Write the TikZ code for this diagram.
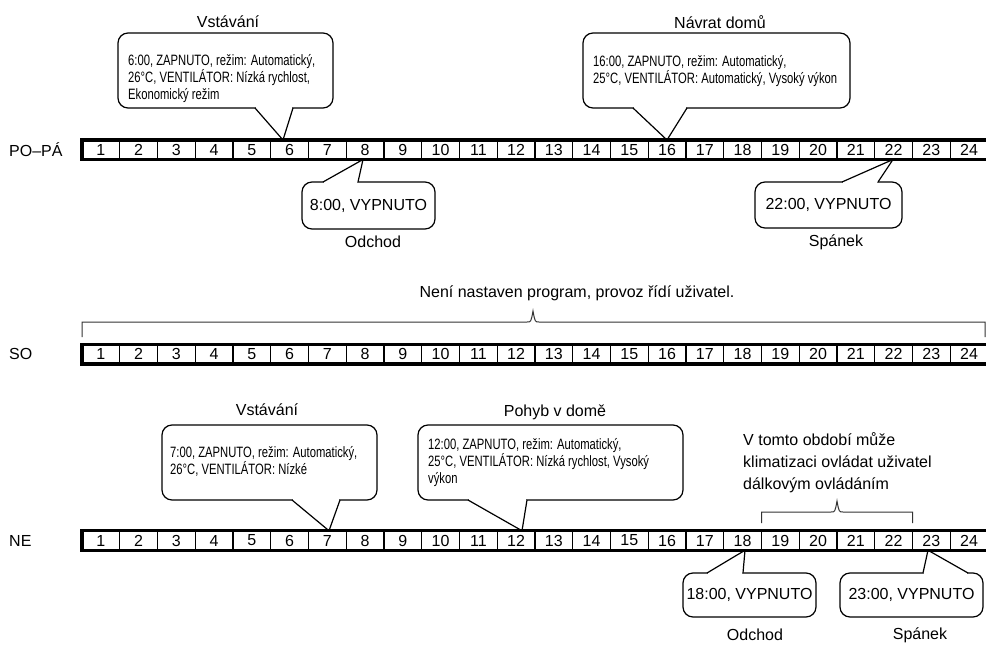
\documentclass[tikz,border=0pt]{standalone}
\usepackage{fontspec}
\setmainfont{Liberation Sans}
\newfontfamily\narrowfont{Liberation Sans}[FakeStretch=0.75]

% pointer of a bubble: box, side, left base x, right base x, tip
\newcommand\tailto[5]{%
  \fill[white] (#3,0 |- #1.#2) -- (#5) -- (#4,0 |- #1.#2) -- cycle;
  \draw[white, line width=2] (#3+1,0 |- #1.#2) -- (#4-1,0 |- #1.#2);
  \draw[line width=1.2] (#3,0 |- #1.#2) -- (#5) -- (#4,0 |- #1.#2);
}

\begin{document}
\begin{tikzpicture}[
  x=1pt, y=-1pt,
  font=\fontsize{16}{19}\selectfont,
  cell/.style={draw, line width=1.3, minimum width=37.75, minimum height=19.5, inner sep=0, outer sep=0},
  bubble/.style={draw, line width=1.2, rounded corners=10, fill=white, inner sep=0, outer sep=0},
  btext/.style={font=\narrowfont\fontsize{15}{17}\selectfont, align=left, anchor=north west, inner sep=0},
  bar/.style={line width=3.2},
  brace/.style={line width=1, black!80}
]
\useasboundingbox (0,0) rectangle (986,645);

% day rows
\node[anchor=west, inner sep=0] (popa) at (9,150) {PO–PÁ};
\node[anchor=west, inner sep=0] (so) at (9,354) {SO};
\node[anchor=west, inner sep=0] (ne) at (9,540.5) {NE};
\foreach \k in {1,...,24} {
  \node[cell] (w\k) at ({82+(\k-0.5)*37.75},149.75) {\k};
  \node[cell] (s\k) at ({82+(\k-0.5)*37.75},354.25) {\k};
  \node[cell] (n\k) at ({82+(\k-0.5)*37.75},540.5) {\k};
}

% PO-PA
\node[bubble, minimum width=215, minimum height=75] (c1) at (225.5,70.5) {};
\tailto{c1}{south}{255}{293}{283,0 |- w6.north}
\node[btext] (c1t) at (128,54) {6:00, ZAPNUTO, režim: Automatický,\\26°C, VENTILÁTOR: Nízká rychlost,\\Ekonomický režim};
\node (c1l) at (228,22) {Vstávání};

\node[bubble, minimum width=267, minimum height=75] (c2) at (716.5,70.5) {};
\tailto{c2}{south}{633}{687}{667,0 |- w16.north}
\node[btext] (c2t) at (593,55) {16:00, ZAPNUTO, režim: Automatický,\\25°C, VENTILÁTOR: Automatický, Vysoký výkon};
\node (c2l) at (720,22) {Návrat domů};

\node[bubble, minimum width=133, minimum height=47] (c3) at (368.5,205.5) {8:00, VYPNUTO};
\tailto{c3}{north}{323}{358}{363,0 |- w8.south}
\node (c3l) at (373,242) {Odchod};

\node[bubble, minimum width=147, minimum height=46] (c4) at (828.5,205) {22:00, VYPNUTO};
\tailto{c4}{north}{842}{878}{893,0 |- w22.south}
\node (c4l) at (836,242) {Spánek};

% SO
\node (sotext) at (577,293) {Není nastaven program, provoz řídí uživatel.};
\draw[brace] (s1.west |- 0,337) -- (s1.west |- 0,322) -- (527,322) .. controls (531,322) .. (533,311) .. controls (535,322) .. (539,322) -- (985,322) -- (985,337);

% NE
\node[bubble, minimum width=215, minimum height=75] (c5) at (269.5,462.5) {};
\tailto{c5}{south}{292}{340}{329,0 |- n7.north}
\node[btext] (c5t) at (170,446.5) {7:00, ZAPNUTO, režim: Automatický,\\26°C, VENTILÁTOR: Nízké};
\node (c5l) at (267,410) {Vstávání};

\node[bubble, minimum width=265, minimum height=75] (c6) at (550.5,462.5) {};
\tailto{c6}{south}{468}{527}{522,0 |- n12.north}
\node[btext] (c6t) at (428,438) {12:00, ZAPNUTO, režim: Automatický,\\25°C, VENTILÁTOR: Nízká rychlost, Vysoký\\výkon};
\node (c6l) at (555,412) {Pohyb v domě};

\node[align=left, anchor=north west, inner sep=0, font=\fontsize{16}{22}\selectfont] (note) at (743,432) {V tomto období může\\klimatizaci ovládat uživatel\\dálkovým ovládáním};
\draw[brace] (n19.west |- 0,523) -- (n19.west |- 0,512) -- (831,512) .. controls (835,512) .. (837,501) .. controls (839,512) .. (843,512) -- (n22.east |- 0,512) -- (n22.east |- 0,523);

\node[bubble, minimum width=133, minimum height=44] (c7) at (749.5,595) {18:00, VYPNUTO};
\tailto{c7}{north}{707}{743}{745,0 |- n18.south}
\node (c7l) at (755,635) {Odchod};

\node[bubble, minimum width=143, minimum height=44] (c8) at (911.5,595) {23:00, VYPNUTO};
\tailto{c8}{north}{923}{968}{928,0 |- n23.south}
\node (c8l) at (920,635) {Spánek};

% thick frame of the rows
\foreach \r in {w,s,n}
  \draw[bar] (\r24.north east) -- (\r1.north west) -- (\r1.south west) -- (\r24.south east);
\end{tikzpicture}
\end{document}
